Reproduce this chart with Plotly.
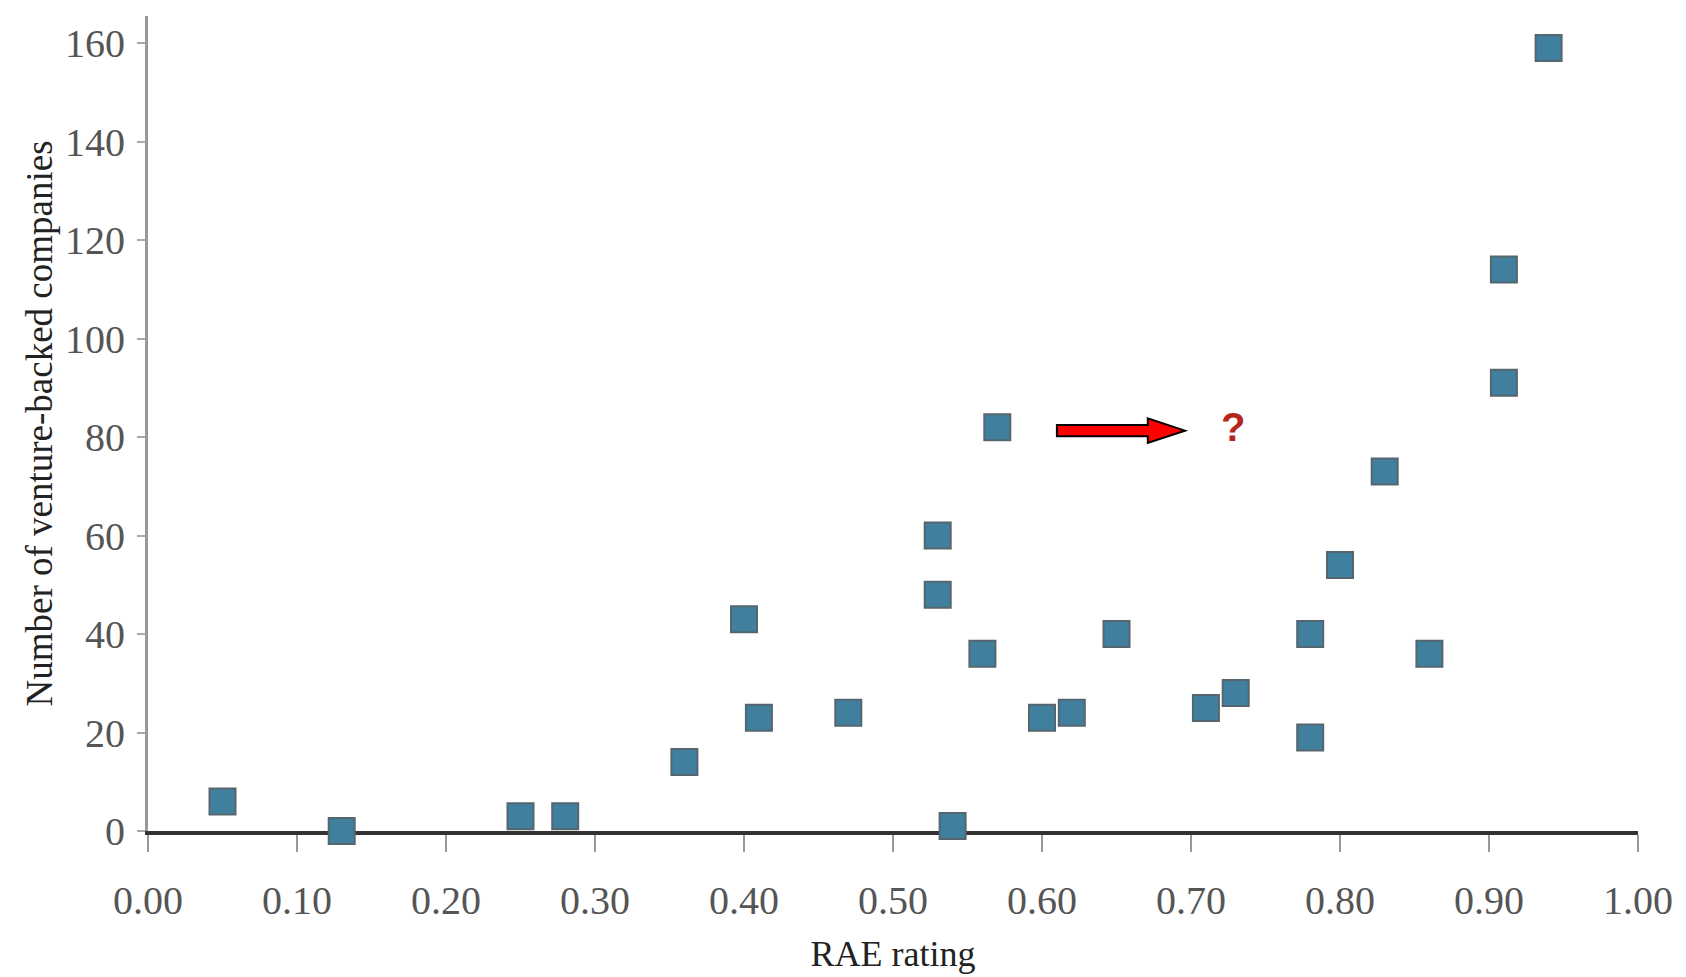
import plotly.graph_objects as go

# RAE rating (x) vs number of venture-backed companies (y)
rae_rating = [0.05, 0.13, 0.25, 0.28, 0.36, 0.40, 0.41, 0.47, 0.53, 0.53,
              0.54, 0.56, 0.57, 0.60, 0.62, 0.65, 0.71, 0.73, 0.78, 0.78,
              0.80, 0.83, 0.86, 0.91, 0.91, 0.94]
companies = [6, 0, 3, 3, 14, 43, 23, 24, 48, 60,
             1, 36, 82, 23, 24, 40, 25, 28, 19, 40,
             54, 73, 36, 91, 114, 159]

x_ticks = [0.0, 0.1, 0.2, 0.3, 0.4, 0.5, 0.6, 0.7, 0.8, 0.9, 1.0]
x_tick_labels = ["0.00", "0.10", "0.20", "0.30", "0.40", "0.50",
                 "0.60", "0.70", "0.80", "0.90", "1.00"]
y_ticks = [0, 20, 40, 60, 80, 100, 120, 140, 160]

# annotation (arrow pointing to a question mark)
arrow_x = [0.610, 0.696]
arrow_y = 81.3
question_pos = (0.728, 82)

SERIF = "Liberation Serif, Times New Roman, serif"

fig = go.Figure()
fig.add_trace(go.Scatter(
    x=rae_rating, y=companies, mode="markers",
    marker=dict(symbol="square", size=26, color="#417f9f",
                line=dict(color="#56666e", width=2)),
    cliponaxis=False, showlegend=False,
))

# block arrow in data coordinates
x0, x1 = arrow_x
head_len = 0.025
shaft_h = 1.15
head_h = 2.5
xh = x1 - head_len
path = (f"M {x0},{arrow_y - shaft_h} L {xh},{arrow_y - shaft_h} "
        f"L {xh},{arrow_y - head_h} L {x1},{arrow_y} L {xh},{arrow_y + head_h} "
        f"L {xh},{arrow_y + shaft_h} L {x0},{arrow_y + shaft_h} Z")
fig.add_shape(type="path", path=path, xref="x", yref="y",
              fillcolor="#ff0000", line=dict(color="#000000", width=2))

fig.add_annotation(x=question_pos[0], y=question_pos[1], text="<b>?</b>",
                   showarrow=False, xref="x", yref="y",
                   font=dict(family="Liberation Sans, Arial, sans-serif",
                             size=40, color="#b5261e"))

fig.update_layout(
    width=1686, height=977,
    margin=dict(l=140, r=56, t=8, b=154),
    paper_bgcolor="white", plot_bgcolor="white",
    font=dict(family=SERIF, size=40, color="#555555"),
)
fig.update_xaxes(
    range=[0, 1.0], tickvals=x_ticks, ticktext=x_tick_labels,
    showgrid=False, zeroline=False,
    showline=True, linecolor="#333333", linewidth=4,
    ticks="outside", ticklen=17, tickwidth=2, tickcolor="#999999",
    ticklabelstandoff=14,
    tickfont=dict(family=SERIF, size=40, color="#555555"),
    title=dict(text="RAE rating", standoff=20,
               font=dict(family=SERIF, size=36, color="#222222")),
    layer="below traces",
)
fig.update_yaxes(
    range=[0, 165.5], tickvals=y_ticks,
    showgrid=False, zeroline=False,
    showline=True, linecolor="#999999", linewidth=3,
    ticks="outside", ticklen=8, tickwidth=2, tickcolor="#aaaaaa",
    ticklabelstandoff=4,
    tickfont=dict(family=SERIF, size=40, color="#555555"),
    title=dict(text="Number of venture-backed companies", standoff=2,
               font=dict(family=SERIF, size=37, color="#222222")),
    layer="below traces",
)

fig.write_html("out.html")
